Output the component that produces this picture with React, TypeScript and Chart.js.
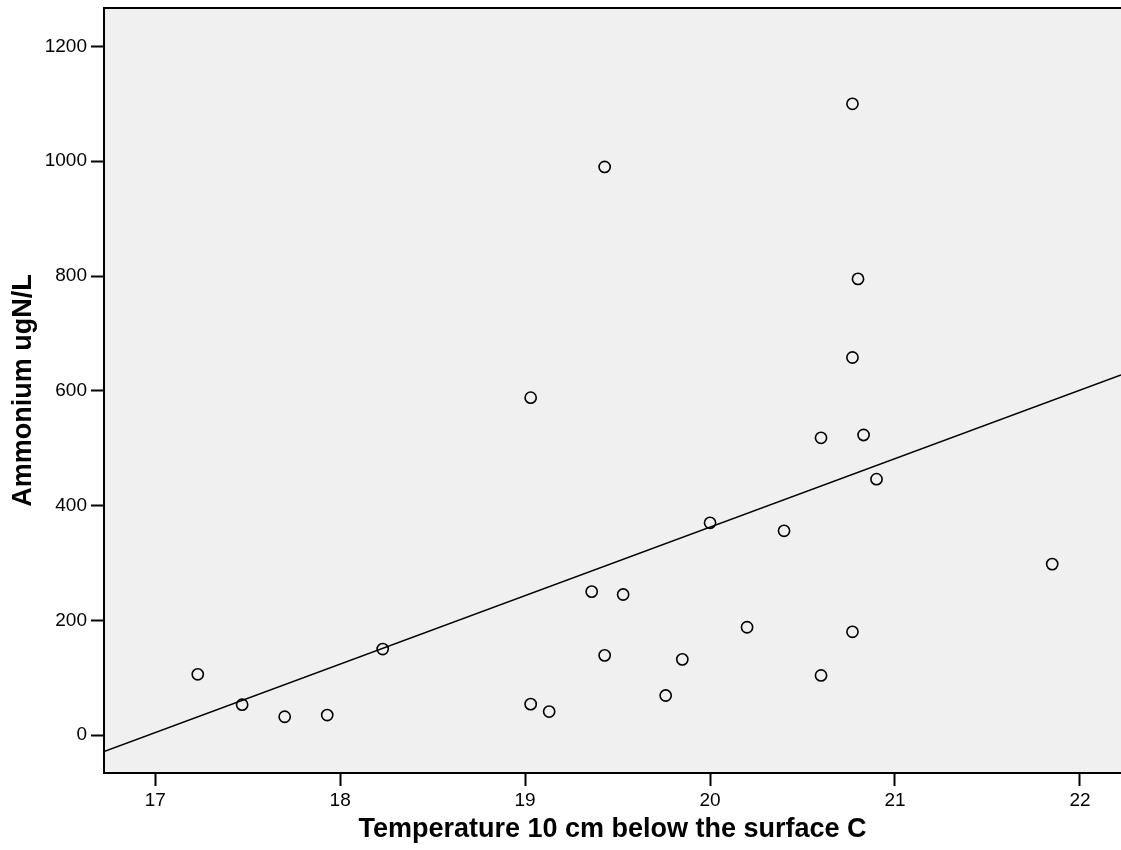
import React, { useEffect, useRef } from "react";
import { Chart, registerables } from "chart.js";

Chart.register(...registerables);

// Temperature 10 cm below the surface (°C)
const temperatures = [
  17.23, 17.47, 17.7, 17.93, 18.23, 19.03, 19.03, 19.13, 19.36, 19.43, 19.43, 19.53, 19.76,
  19.85, 20.0, 20.2, 20.4, 20.6, 20.6, 20.77, 20.77, 20.77, 20.8, 20.83, 20.9, 21.85,
];
// Ammonium (ugN/L)
const ammonium = [
  106, 53, 32, 35, 150, 588, 54, 41, 250, 990, 139, 245, 69,
  132, 370, 188, 356, 518, 104, 1100, 658, 180, 795, 523, 446, 298,
];

const xTickValues = [17, 18, 19, 20, 21, 22];
const yTickValues = [0, 200, 400, 600, 800, 1000, 1200];
const xRange = [16.723, 22.222];
const yRange = [-66, 1267];

const xTitle = "Temperature 10 cm below the surface C";
const yTitle = "Ammonium ugN/L";

const FONT = "'Liberation Sans', Arial, Helvetica, sans-serif";

function fitLine(xs: number[], ys: number[]) {
  const n = xs.length;
  const mx = xs.reduce((a, b) => a + b, 0) / n;
  const my = ys.reduce((a, b) => a + b, 0) / n;
  let sxy = 0;
  let sxx = 0;
  for (let i = 0; i < n; i++) {
    sxy += (xs[i] - mx) * (ys[i] - my);
    sxx += (xs[i] - mx) * (xs[i] - mx);
  }
  const slope = sxy / sxx;
  const intercept = my - slope * mx;
  return { slope, intercept };
}

const plotFrame = {
  id: "plotFrame",
  beforeDraw(chart: any) {
    const { ctx, chartArea: a } = chart;
    ctx.save();
    ctx.fillStyle = "#f0f0f0";
    ctx.fillRect(a.left, a.top, a.right - a.left, a.bottom - a.top);
    ctx.restore();
  },
  afterDraw(chart: any) {
    const { ctx, chartArea: a } = chart;
    ctx.save();
    ctx.strokeStyle = "#000";
    ctx.lineWidth = 2;
    ctx.beginPath();
    ctx.moveTo(a.left - 1, a.top);
    ctx.lineTo(a.right, a.top);
    ctx.stroke();
    ctx.restore();
  },
};

export default function App() {
  const canvasRef = useRef<HTMLCanvasElement | null>(null);

  useEffect(() => {
    const canvas = canvasRef.current;
    if (!canvas) return;
    const { slope, intercept } = fitLine(temperatures, ammonium);
    const linePts = [xRange[0], xRange[1]].map((x) => ({ x, y: intercept + slope * x }));
    const points = temperatures.map((x, i) => ({ x, y: ammonium[i] }));

    const tickFont = { family: FONT, size: 19 };
    const titleFont = { family: FONT, size: 27, weight: "bold" as const };

    const chart = new Chart(canvas, {
      type: "scatter",
      data: {
        datasets: [
          {
            type: "line",
            data: linePts,
            borderColor: "#000",
            borderWidth: 1.6,
            pointRadius: 0,
            fill: false,
            tension: 0,
            order: 2,
          } as any,
          {
            type: "scatter",
            data: points,
            pointStyle: "circle",
            pointRadius: 5.6,
            pointBorderWidth: 1.6,
            borderColor: "#000",
            backgroundColor: "rgba(0,0,0,0)",
            order: 1,
          } as any,
        ],
      },
      options: {
        responsive: false,
        animation: false,
        layout: { autoPadding: false, padding: { top: 8, right: 0, left: 0, bottom: 0 } },
        plugins: {
          legend: { display: false },
          tooltip: { enabled: false },
        },
        scales: {
          x: {
            type: "linear",
            position: "bottom",
            min: xRange[0],
            max: xRange[1],
            afterBuildTicks: (scale: any) => {
              scale.ticks = xTickValues.map((v) => ({ value: v }));
            },
            afterFit: (scale: any) => {
              scale.height = 77;
              scale.paddingLeft = 0;
              scale.paddingRight = 0;
            },
            ticks: {
              font: tickFont,
              color: "#000",
              padding: 3,
              autoSkip: false,
              maxRotation: 0,
              callback: (v: any) => String(v),
            },
            grid: {
              display: true,
              drawOnChartArea: false,
              drawTicks: true,
              tickLength: 13,
              tickWidth: 2,
              tickColor: "#000",
              color: "#000",
            },
            border: { display: true, color: "#000", width: 2 },
            title: {
              display: true,
              text: xTitle,
              font: titleFont,
              color: "#000",
              padding: { top: 0, bottom: 4 },
            },
          },
          y: {
            type: "linear",
            min: yRange[0],
            max: yRange[1],
            afterBuildTicks: (scale: any) => {
              scale.ticks = yTickValues.map((v) => ({ value: v }));
            },
            afterFit: (scale: any) => {
              scale.width = 104;
              scale.paddingTop = 0;
              scale.paddingBottom = 0;
            },
            ticks: {
              font: tickFont,
              color: "#000",
              padding: 4,
              autoSkip: false,
              callback: (v: any) => String(v),
            },
            grid: {
              display: true,
              drawOnChartArea: false,
              drawTicks: true,
              tickLength: 13,
              tickWidth: 2,
              tickColor: "#000",
              color: "#000",
            },
            border: { display: true, color: "#000", width: 2 },
            title: {
              display: true,
              text: yTitle,
              font: titleFont,
              color: "#000",
              padding: { top: 7, bottom: 0 },
            },
          },
        },
      },
      plugins: [plotFrame],
    });

    return () => chart.destroy();
  }, []);

  return (
    <div style={{ position: "absolute", left: 0, top: 0, width: 1121, height: 850, background: "#fff" }}>
      <canvas ref={canvasRef} width={1121} height={850} style={{ display: "block" }} />
    </div>
  );
}
